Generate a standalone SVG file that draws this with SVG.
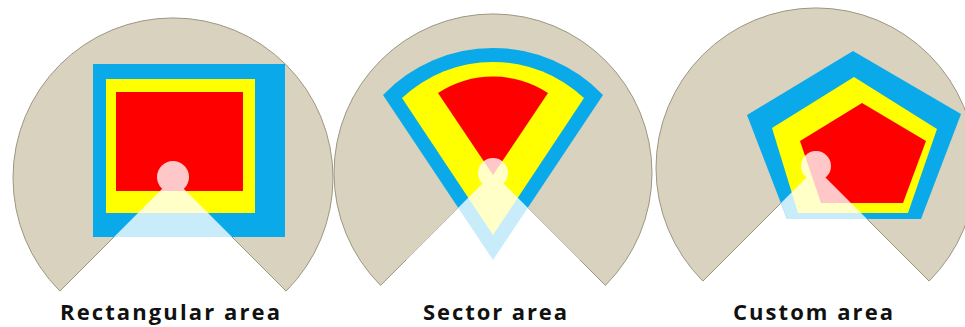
<svg xmlns="http://www.w3.org/2000/svg" width="965" height="327" viewBox="0 0 965 327">
<style>
.base{fill:#d8d2bf;stroke:#9c9682;stroke-width:1}
.blue{fill:#0aa9e9}
.yellow{fill:#ffff00}
.red{fill:#ff0000}
.glow{fill:#ffffff;opacity:0.78}
.label{font-family:"Open Sans","Liberation Sans",sans-serif;font-weight:700;font-size:22px;fill:#111111;text-anchor:middle}
</style>
<rect x="0" y="0" width="965" height="327" fill="#ffffff"/>
<g id="rectangular">
  <path class="base" d="M173,178 L59.9,291.1 A160,160 0 1 1 286.1,291.1 Z"/>
  <rect class="blue" x="93" y="64" width="192" height="173"/>
  <rect class="yellow" x="106" y="79" width="149" height="134"/>
  <rect class="red" x="116" y="92" width="127" height="99"/>
  <g class="glow">
    <circle cx="173" cy="177" r="16"/>
    <polygon points="173,178 114,237 232,237"/>
  </g>
  <text class="label" x="170" y="320" textLength="220" lengthAdjust="spacing">Rectangular area</text>
</g>
<g id="sector">
  <path class="base" d="M493,173 L380.6,285.4 A159,159 0 1 1 605.4,285.4 Z"/>
  <path class="blue" d="M493,260 L383,95 A152,152 0 0 1 603,95 Z"/>
  <path class="yellow" d="M493,235 L402,98 A133,133 0 0 1 584,98 Z"/>
  <path class="red" d="M493,175 L438,93 A100,100 0 0 1 548,93 Z"/>
  <g class="glow">
    <circle cx="493" cy="173" r="15"/>
    <polygon points="493,173 406,260 580,260"/>
  </g>
  <text class="label" x="495" y="320" textLength="144" lengthAdjust="spacing">Sector area</text>
</g>
<g id="custom">
  <path class="base" d="M816,168 L702.9,281.1 A160,160 0 1 1 929.1,281.1 Z"/>
  <polygon class="blue" points="853,51 961,114 921,219 787,219 747,115"/>
  <polygon class="yellow" points="854,77 937,129 908,213 798,213 772,128"/>
  <polygon class="red" points="862,103 926,141 903,203 821,203 800,141"/>
  <g class="glow">
    <circle cx="816" cy="166" r="15"/>
    <clipPath id="pentClip"><polygon points="853,51 961,114 921,219 787,219 747,115"/></clipPath>
    <polygon points="816,168 765,219 867,219" clip-path="url(#pentClip)"/>
  </g>
  <text class="label" x="813" y="320" textLength="160" lengthAdjust="spacing">Custom area</text>
</g>
</svg>
